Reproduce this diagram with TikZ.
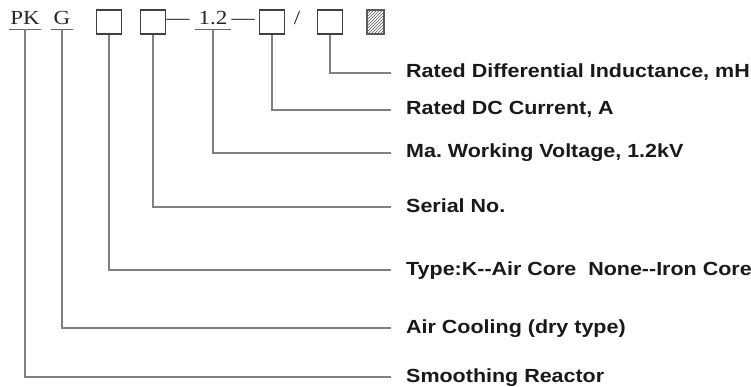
\documentclass[tikz,border=0pt]{standalone}
\usepackage{fontspec}
\setmainfont{Liberation Serif}[FakeStretch=1.15]
\newfontfamily\lblfont{Liberation Sans}[FakeStretch=1.13]
\usetikzlibrary{patterns}
\tikzset{
  codebox/.style={draw=black!75,line width=1.1pt,minimum width=25pt,minimum height=24pt,inner sep=0pt},
  codetxt/.style={font=\fontsize{20}{20}\selectfont,text=black!85,inner xsep=1pt,inner ysep=0pt,text height=13pt,text depth=4pt},
  lbl/.style={font=\lblfont\bfseries\fontsize{19}{19}\selectfont,text=black!90,anchor=west,inner sep=0pt,text height=13pt,text depth=3pt},
  lead/.style={draw=black!50,line width=1.3pt,shorten >=15pt},
  uline/.style={draw=black!60,line width=1pt}
}
\begin{document}
\begin{tikzpicture}[x=1pt,y=-1pt]
\useasboundingbox (0,0) rectangle (751,387);
% code line
\node[codetxt] (pk) at (25,20.5) {PK};
\node[codetxt,inner xsep=2pt] (g) at (62,20.5) {G};
\node[codebox] (b1) at (109,22) {};
\node[codebox] (b2) at (153,22) {};
\node[codetxt] (d1) at (178,20.5) {---};
\node[codetxt,inner xsep=3pt] (v) at (213,20.5) {1.2};
\node[codetxt] (d2) at (243,20.5) {---};
\node[codebox] (b3) at (272,22) {};
\node[codetxt] (sl) at (297,20.5) {/};
\node[codebox] (b4) at (330,22) {};
\node[codebox,minimum width=17pt,draw=black!65,pattern=north east lines,pattern color=black!65] (hb) at (375.5,22) {};
\foreach \n in {pk,g,v}{\draw[uline] (\n.south west) -- (\n.south east);}
% meaning of each field
\node[lbl] (ind) at (406,73) {Rated Differential Inductance, mH};
\node[lbl] (cur) at (406,110) {Rated DC Current, A};
\node[lbl] (volt) at (406,153) {Ma.\ Working Voltage, 1.2kV};
\node[lbl] (ser) at (406,207) {Serial No.};
\node[lbl] (typ) at (406,270) {Type:K--Air Core\ \ None--Iron Core};
\node[lbl] (cool) at (406,328) {Air Cooling (dry type)};
\node[lbl] (smo) at (406,377) {Smoothing Reactor};
% leaders
\draw[lead] (b4.south) |- (ind.west);
\draw[lead] (b3.south) |- (cur.west);
\draw[lead] (v.south) |- (volt.west);
\draw[lead] (b2.south) |- (ser.west);
\draw[lead] (b1.south) |- (typ.west);
\draw[lead] (g.south) |- (cool.west);
\draw[lead] (pk.south) |- (smo.west);
\end{tikzpicture}
\end{document}
